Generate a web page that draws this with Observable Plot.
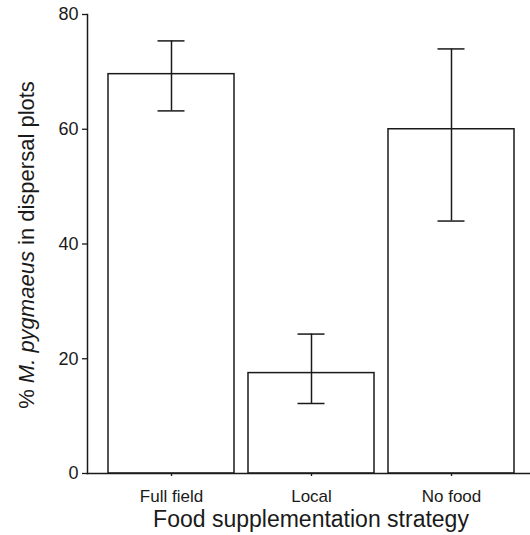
<!DOCTYPE html>
<html><head><meta charset="utf-8">
<script src="https://cdn.jsdelivr.net/npm/d3@7"></script>
<script src="https://cdn.jsdelivr.net/npm/@observablehq/plot@0.6"></script>
<style>body{margin:0;background:#fff} svg{display:block}</style>
</head><body><div id="chart"></div>
<script>
const categories = ["Full field", "Local", "No food"];
const means = [69.6, 17.5, 60.0];
const lower = [63.2, 12.2, 44.0];
const upper = [75.4, 24.3, 74.0];
const yTicks = [0, 20, 40, 60, 80];
const xTitle = "Food supplementation strategy";

const data = categories.map((c, i) => ({c, m: means[i], lo: lower[i], hi: upper[i]}));
const ink = "#1a1a1a";
const font = "'Liberation Sans', Arial, Helvetica, sans-serif";

const chart = Plot.plot({
  width: 530,
  height: 535,
  marginLeft: 87,
  marginRight: 0,
  marginTop: 14,
  marginBottom: 62,
  style: {fontFamily: font, color: ink, background: "#fff"},
  x: {domain: categories, range: [87, 535], paddingInner: 0.1, paddingOuter: 0.15, label: null},
  y: {domain: [0, 80], label: null},
  marks: [
    Plot.barY(data, {x: "c", y: "m", fill: "white", stroke: ink, strokeWidth: 1.5}),
    Plot.ruleX(data, {x: "c", y1: "lo", y2: "hi", stroke: ink, strokeWidth: 1.5}),
    Plot.tickY(data, {x: "c", y: "lo", stroke: ink, strokeWidth: 1.5, insetLeft: 49.5, insetRight: 49.5}),
    Plot.tickY(data, {x: "c", y: "hi", stroke: ink, strokeWidth: 1.5, insetLeft: 49.5, insetRight: 49.5}),
    Plot.frame({anchor: "left", stroke: ink, strokeWidth: 1.5}),
    Plot.frame({anchor: "bottom", stroke: ink, strokeWidth: 1.5}),
    Plot.axisY({ticks: yTicks, tickSize: 5, tickPadding: 4, fontSize: 18, stroke: ink, strokeWidth: 1.3, label: null}),
    Plot.axisX({tickSize: 3, tickPadding: 13, fontSize: 17, stroke: ink, strokeWidth: 1.3, label: null})
  ]
});

const svg = d3.select(chart);
svg.append("text")
  .attr("x", 311).attr("y", 527)
  .attr("text-anchor", "middle")
  .attr("font-size", 23)
  .attr("font-family", font)
  .attr("fill", ink)
  .text(xTitle);

const yt = svg.append("text")
  .attr("transform", "translate(34,245) rotate(-90)")
  .attr("text-anchor", "middle")
  .attr("font-size", 22)
  .attr("font-family", font)
  .attr("fill", ink);
yt.append("tspan").text("% ");
yt.append("tspan").attr("font-style", "italic").text("M. pygmaeus");
yt.append("tspan").text(" in dispersal plots");

document.getElementById("chart").appendChild(chart);
</script>
</body></html>
